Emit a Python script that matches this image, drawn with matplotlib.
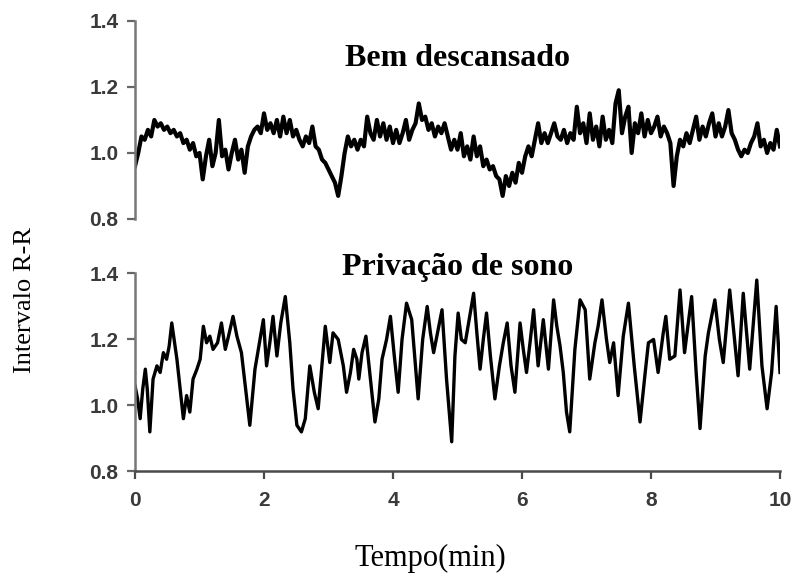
import numpy as np
import matplotlib.pyplot as plt

# Rested subject: R-R interval sampled every 0.05 min (0 .. 10 min)
rested_t = np.linspace(0, 10, 201)
rested_rr = [
    0.96, 1.00, 1.05, 1.04, 1.07, 1.05, 1.10, 1.08, 1.09, 1.07,
    1.08, 1.06, 1.07, 1.05, 1.06, 1.03, 1.04, 1.01, 1.03, 0.99,
    1.00, 0.92, 0.99, 1.04, 0.96, 1.00, 1.10, 0.99, 1.01, 0.95,
    1.00, 1.04, 0.98, 1.01, 0.94, 1.02, 1.05, 1.07, 1.08, 1.06,
    1.12, 1.07, 1.09, 1.06, 1.10, 1.05, 1.11, 1.06, 1.10, 1.05,
    1.07, 1.04, 1.02, 1.05, 1.03, 1.08, 1.02, 1.01, 0.98, 0.97,
    0.95, 0.93, 0.91, 0.87, 0.93, 1.00, 1.05,
    1.02, 1.04, 1.01, 1.04, 1.02, 1.11, 1.06, 1.04, 1.10, 1.05,
    1.09, 1.04, 1.08, 1.03, 1.07, 1.03, 1.06, 1.10, 1.04, 1.07,
    1.09, 1.15, 1.10, 1.11, 1.07, 1.09, 1.05, 1.08, 1.06, 1.09,
    1.05, 1.01, 1.04, 1.01, 1.06, 0.99, 1.02, 0.98, 1.05, 0.99,
    1.02, 0.96, 0.98, 0.95, 0.96, 0.93, 0.92, 0.87, 0.93, 0.90,
    0.94, 0.91, 0.97, 0.94, 0.99, 1.02, 0.99, 1.04, 1.09, 1.03,
    1.06, 1.03, 1.06, 1.09, 1.05,
    1.04, 1.07, 1.03, 1.06, 1.04, 1.14, 1.06, 1.09, 1.03, 1.12,
    1.04, 1.08, 1.02, 1.11, 1.04, 1.07, 1.03, 1.15, 1.19, 1.06,
    1.11, 1.14, 1.00, 1.09, 1.06, 1.12, 1.05, 1.10, 1.06, 1.08,
    1.11, 1.05, 1.08, 1.06, 1.03, 0.90, 0.99, 1.04, 1.02, 1.06,
    1.03, 1.07, 1.11, 1.04, 1.08, 1.05, 1.09, 1.12, 1.05, 1.09,
    1.05, 1.08, 1.13, 1.06, 1.04, 1.01, 0.99, 1.01, 1.00, 1.03,
    1.05, 1.09, 1.02, 1.04, 1.00, 1.03, 1.01, 1.07, 1.02,
]

# Sleep-deprived subject: turning points of the trace
deprived_t = [
    0.00, 0.04, 0.08, 0.12, 0.16, 0.19, 0.23, 0.28, 0.34, 0.39,
    0.44, 0.49, 0.53, 0.57, 0.65, 0.70, 0.75, 0.80, 0.85, 0.90,
    0.96, 1.01, 1.06, 1.11, 1.16, 1.21, 1.28, 1.34, 1.40, 1.45,
    1.52, 1.58, 1.65, 1.72, 1.78, 1.86, 1.93, 1.99, 2.04, 2.09,
    2.14, 2.20, 2.26, 2.33, 2.40, 2.45, 2.51, 2.58, 2.64, 2.71,
    2.78, 2.84, 2.95, 3.02, 3.07, 3.15, 3.23, 3.28,
    3.34, 3.39, 3.44, 3.47, 3.52, 3.58, 3.65, 3.72, 3.78, 3.83,
    3.90, 3.96, 4.02, 4.08, 4.14, 4.21, 4.29, 4.34, 4.39, 4.46,
    4.53, 4.58, 4.63, 4.69, 4.76, 4.83, 4.91, 4.96, 5.01, 5.06,
    5.12, 5.18, 5.25, 5.30, 5.35, 5.40, 5.45, 5.51, 5.58, 5.65,
    5.71, 5.77, 5.83, 5.89, 5.97, 6.02, 6.07, 6.13, 6.18, 6.25,
    6.33, 6.41, 6.49, 6.54,
    6.59, 6.64, 6.69, 6.74, 6.82, 6.90, 6.98, 7.05, 7.13, 7.18,
    7.24, 7.31, 7.36, 7.42, 7.49, 7.57, 7.65, 7.74, 7.83, 7.91,
    7.96, 8.04, 8.11, 8.19, 8.23, 8.29, 8.37, 8.45, 8.52, 8.63,
    8.70, 8.76, 8.84, 8.89, 8.99, 9.06, 9.12, 9.22, 9.35, 9.43,
    9.53, 9.64, 9.72, 9.80, 9.87, 9.94, 10.00,
]
deprived_rr = [
    1.06, 1.02, 0.96, 1.05, 1.11, 1.05, 0.92, 1.08, 1.12, 1.10,
    1.16, 1.14, 1.18, 1.25, 1.14, 1.05, 0.96, 1.03, 0.98, 1.08,
    1.11, 1.14, 1.24, 1.19, 1.21, 1.17, 1.19, 1.25, 1.17, 1.21,
    1.27, 1.21, 1.16, 1.04, 0.94, 1.11, 1.19, 1.26, 1.12, 1.19,
    1.27, 1.15, 1.25, 1.33, 1.19, 1.05, 0.94, 0.92, 0.96, 1.12,
    1.04, 0.99, 1.24, 1.13, 1.22, 1.20, 1.12, 1.04,
    1.10, 1.17, 1.14, 1.08, 1.16, 1.21, 1.08, 0.95, 1.02, 1.14,
    1.20, 1.27, 1.15, 1.04, 1.20, 1.31, 1.26, 1.14, 1.02, 1.20,
    1.30, 1.22, 1.16, 1.22, 1.29, 1.08, 0.89, 1.15, 1.28, 1.20,
    1.19, 1.26, 1.34, 1.22, 1.11, 1.20, 1.28, 1.15, 1.02, 1.12,
    1.19, 1.25, 1.12, 1.04, 1.25, 1.17, 1.10, 1.20, 1.29, 1.12,
    1.26, 1.11, 1.32, 1.24,
    1.18, 1.10, 0.98, 0.92, 1.17, 1.32, 1.29, 1.08, 1.19, 1.24,
    1.32, 1.20, 1.13, 1.19, 1.03, 1.21, 1.31, 1.12, 0.95, 1.10,
    1.19, 1.20, 1.10, 1.22, 1.27, 1.14, 1.15, 1.35, 1.16, 1.33,
    1.10, 0.93, 1.15, 1.22, 1.32, 1.20, 1.13, 1.35, 1.09, 1.34,
    1.11, 1.38, 1.12, 0.99, 1.10, 1.30, 1.10,
]

y_ticks = [0.8, 1.0, 1.2, 1.4]
y_tick_labels = ['0.8', '1.0', '1.2', '1.4']
x_ticks = [0, 2, 4, 6, 8, 10]

serif = ['Liberation Serif', 'DejaVu Serif']
sans = ['Liberation Sans', 'DejaVu Sans']

fig = plt.figure(figsize=(7.96, 5.79), dpi=100)
ax_top = fig.add_axes([0.1696, 0.6218, 0.8103, 0.3420])
ax_bot = fig.add_axes([0.1696, 0.1857, 0.8103, 0.3420])

for ax in (ax_top, ax_bot):
    ax.set_xlim(0, 10)
    ax.set_ylim(0.8, 1.4)
    ax.set_yticks(y_ticks)
    ax.set_yticklabels(y_tick_labels, family=sans, fontsize=15,
                       fontweight='bold', color='#3a3a3a')
    for side in ('top', 'right'):
        ax.spines[side].set_visible(False)
    ax.spines['left'].set_color('#777777')
    ax.spines['left'].set_linewidth(1.8)
    ax.tick_params(axis='y', direction='out', length=6, width=1.6,
                   color='#666666', pad=6)

# top panel: only the left axis
ax_top.spines['bottom'].set_visible(False)
ax_top.set_xticks([])
ax_top.plot(rested_t, rested_rr, color='black', lw=3.0)
ax_top.text(0.5, 0.81, 'Bem descansado', transform=ax_top.transAxes,
            ha='center', va='center', family=serif, fontsize=23,
            fontweight='bold')

# bottom panel
ax_bot.spines['bottom'].set_color('#4a4a4a')
ax_bot.spines['bottom'].set_linewidth(1.8)
ax_bot.set_xticks(x_ticks)
ax_bot.set_xticklabels([str(v) for v in x_ticks], family=sans,
                       fontsize=15, fontweight='bold', color='#3a3a3a')
ax_bot.tick_params(axis='x', direction='out', length=6, width=1.6,
                   color='#4a4a4a', pad=8)
ax_bot.plot(deprived_t, deprived_rr, color='black', lw=2.4)
ax_bot.text(0.5, 1.03, 'Privação de sono', transform=ax_bot.transAxes,
            ha='center', va='center', family=serif, fontsize=23,
            fontweight='bold')

fig.text(25 / 796, 1 - 300 / 579, 'Intervalo R-R', rotation=90,
         ha='center', va='center', family=serif, fontsize=19)
fig.text(430 / 796, 1 - 558 / 579, 'Tempo(min)', ha='center',
         va='center', family=serif, fontsize=22)

fig.savefig('out.png', dpi=100, facecolor='white')
